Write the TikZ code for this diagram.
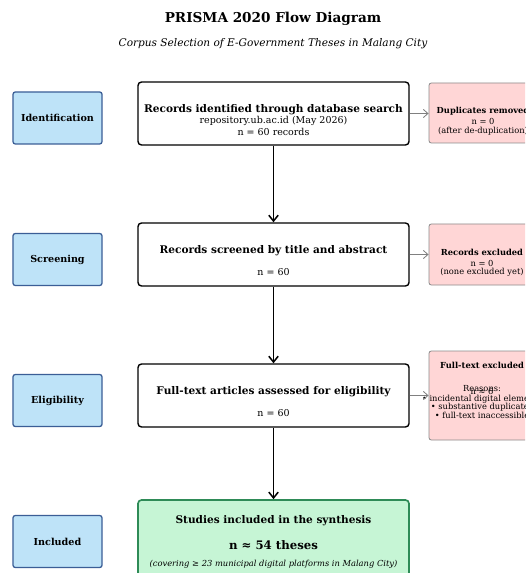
\documentclass[tikz,border=0pt]{standalone}
\usepackage{fontspec}
\setmainfont{DejaVu Serif}
\usepackage{tikz}
\usetikzlibrary{arrows.meta}
\usetikzlibrary{positioning}

\definecolor{stagefill}{HTML}{BEE3F8}
\definecolor{stageline}{HTML}{3B5E96}
\definecolor{exclfill}{HTML}{FFD6D6}
\definecolor{exclline}{HTML}{8C8C8C}
\definecolor{inclfill}{HTML}{C6F5D5}
\definecolor{inclline}{HTML}{2E8B57}

\tikzset{
  stagebox/.style={draw=stageline, fill=stagefill, line width=1.1pt, rounded corners=2pt,
    minimum width=2.67cm, minimum height=1.56cm, font=\bfseries\fontsize{8.2}{9}\selectfont},
  mainbox/.style={draw=black, fill=white, line width=1.2pt, rounded corners=3pt,
    minimum width=8.13cm, minimum height=1.89cm},
  exclbox/.style={draw=exclline, fill=exclfill, line width=.7pt, rounded corners=2pt,
    minimum width=3.3cm},
  inclbox/.style={draw=inclline, fill=inclfill, line width=1.4pt, rounded corners=3pt,
    minimum width=8.13cm, minimum height=2.46cm},
  headtxt/.style={font=\bfseries\fontsize{9}{10}\selectfont, inner sep=0pt},
  subtxt/.style={font=\fontsize{8.1}{9}\selectfont, inner sep=0pt},
  sidehead/.style={font=\bfseries\fontsize{7.1}{8}\selectfont, inner sep=0pt},
  sidetxt/.style={font=\fontsize{7.1}{8}\selectfont, inner sep=0pt},
  flow/.style={-{Straight Barb[length=5pt,width=8pt]}, line width=1.3pt},
  aside/.style={-{Straight Barb[length=4pt,width=7pt]}, draw=gray, line width=.7pt},
}

\begin{document}
\begin{tikzpicture}[x=0.03cm,y=-0.03cm]
\useasboundingbox (0,0) rectangle (525,573);
\clip (0,0) rectangle (525,573);
\fill[white] (0,0) rectangle (525,573);

% title
\node[font=\bfseries\fontsize{11.6}{13}\selectfont] (title) at (273,19) {PRISMA 2020 Flow Diagram};
\node[font=\itshape\fontsize{9}{10}\selectfont] (subtitle) at (273,44) {Corpus Selection of E-Government Theses in Malang City};

% stage labels
\node[stagebox] (idf) at (57.5,118) {Identification};
\node[stagebox] (scr) at (57.5,259.5) {Screening};
\node[stagebox] (elg) at (57.5,400.5) {Eligibility};
\node[stagebox] (inc) at (57.5,541.5) {Included};

% main column
\node[mainbox] (found) at (273.5,113.5) {};
\node[headtxt] (foundA) at (273.5,110) {Records identified through database search};
\node[subtxt] (foundB) at (273.5,121) {repository.ub.ac.id (May 2026)};
\node[subtxt] (foundC) at (273.5,132) {n = 60 records};

\node[mainbox] (screened) at (273.5,254.5) {};
\node[headtxt] (screenedA) at (273.5,251) {Records screened by title and abstract};
\node[subtxt] (screenedB) at (273.5,272) {n = 60};

\node[mainbox] (assessed) at (273.5,395.5) {};
\node[headtxt] (assessedA) at (273.5,392) {Full-text articles assessed for eligibility};
\node[subtxt] (assessedB) at (273.5,413) {n = 60};

\node[inclbox] (included) at (273.5,541) {};
\node[headtxt] (includedA) at (273.5,521) {Studies included in the synthesis};
\node[font=\bfseries\fontsize{10}{12}\selectfont, inner sep=0pt] (includedB) at (273.5,545) {n ≈ 54 theses};
\node[font=\itshape\fontsize{7.1}{8}\selectfont, inner sep=0pt] (includedC) at (273.5,564) {(covering ≥ 23 municipal digital platforms in Malang City)};

% exclusion boxes
\node[exclbox, minimum height=1.8cm] (dupl) at (484,113) {};
\node[sidehead] (duplA) at (483,111) {Duplicates removed};
\node[sidetxt] (duplB) at (483,121) {n = 0};
\node[sidetxt] (duplC) at (483,131) {(after de-duplication)};

\node[exclbox, minimum height=1.83cm] (excl) at (484,254.5) {};
\node[sidehead] (exclA) at (482,252) {Records excluded};
\node[sidetxt] (exclB) at (482,263) {n = 0};
\node[sidetxt] (exclC) at (482,272) {(none excluded yet)};

\node[exclbox, minimum height=2.67cm] (ftex) at (484,395.5) {};
\node[sidehead] (ftexA) at (482,365) {Full-text excluded};
\node[sidetxt] (ftexB) at (482,391) {n ≈ 6};
\node[sidetxt] (ftexC) at (482,389) {Reasons:};
\node[sidetxt] (ftexD) at (482,399) {• incidental digital elements};
\node[sidetxt] (ftexE) at (482,407) {• substantive duplicates};
\node[sidetxt] (ftexF) at (482,415) {• full-text inaccessible};

% connectors
\draw[flow] (found) -- (screened);
\draw[flow] (screened) -- (assessed);
\draw[flow] (assessed) -- (included);
\draw[aside] (found.east) -- (dupl.west |- found.east);
\draw[aside] (screened.east) -- (excl.west |- screened.east);
\draw[aside] (assessed.east) -- (ftex.west |- assessed.east);
\end{tikzpicture}
\end{document}
